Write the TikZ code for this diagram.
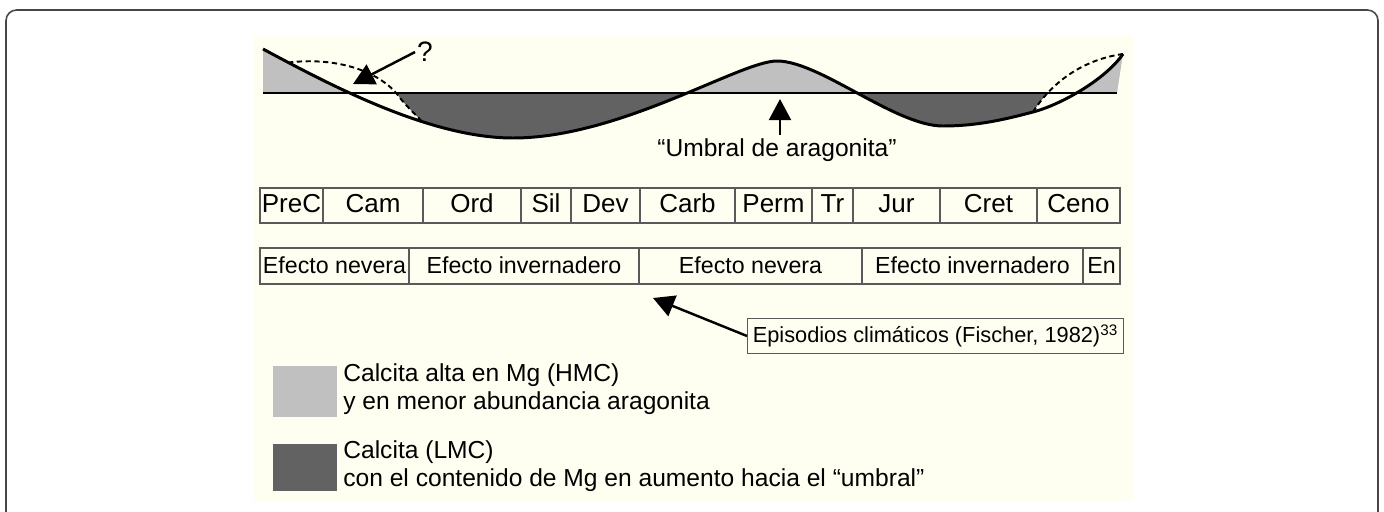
\documentclass[tikz,border=0pt]{standalone}
\usepackage{fontspec}
\setmainfont{Liberation Sans}
\usepackage{xcolor}
\usepackage{tikz}
\usetikzlibrary{arrows.meta,positioning}

\definecolor{cream}{RGB}{255,255,241}
\definecolor{hmc}{RGB}{192,192,192}
\definecolor{lmc}{RGB}{98,98,98}
\definecolor{framegray}{RGB}{70,70,70}
\definecolor{boxgray}{RGB}{90,90,90}

% curves (pixel units)
\newcommand\solidcurve{(263,49) .. controls (330,85) and (430,138) .. (513,138) .. controls (620,138) and (740,61) .. (777,61) .. controls (820,61) and (895,126) .. (943,126) .. controls (980,126) and (1010,118) .. (1033,112) .. controls (1060,105) and (1105,80) .. (1123,54)}
\newcommand\dashleft{(288,62.5) .. controls (345,56) and (385,76) .. (400,98) .. controls (410,110) and (416,115) .. (422,121.5)}
\newcommand\dashright{(1033,112) .. controls (1050,85) and (1080,60) .. (1123,54)}

\begin{document}
\begin{tikzpicture}[x=0.02cm, y=-0.02cm,
    period/.style={draw=boxgray, line width=0.6pt, minimum height=0.7cm, inner sep=0pt, text height=0.8em, text depth=0pt, font=\fontsize{14.8}{16}\selectfont},
    climate/.style={draw=boxgray, line width=0.6pt, minimum height=0.72cm, inner sep=0pt, text height=0.8em, text depth=0pt, font=\fontsize{13.2}{15}\selectfont},
    bigarrow/.style={-{Triangle[length=12pt,width=12.5pt]}, line width=1.4pt},
    legendtext/.style={align=left, anchor=west, inner sep=0pt, font=\fontsize{14}{15.9}\selectfont}]

    \useasboundingbox (0,0) rectangle (1384,511);

    % Frame and background
    \draw[framegray, line width=0.9pt, rounded corners=6pt] (6,10) rectangle (1378,560);
    \fill[cream] (253,35) rectangle (1133,502);

    % Light gray areas
    \begin{scope}
        \clip (263,0) -- (1123,0) -- (1123,54) -- (1117,93) -- (263,93) -- cycle;
        \fill[hmc] \solidcurve -- (1123,200) -- (263,200) -- cycle;
    \end{scope}

    % Dark gray areas
    \begin{scope}
        \clip (0,93) rectangle (1384,220);
        \clip \dashleft -- (422,220) -- (1033,220) -- \dashright -- (1123,30) -- (288,30) -- cycle;
        \fill[lmc] \solidcurve -- (1123,0) -- (263,0) -- cycle;
    \end{scope}

    % Curves
    \draw[line width=1.5pt] (263,93) -- (1117,93);
    \draw[line width=1.7pt] \solidcurve;
    \draw[line width=1.1pt, dash pattern=on 3pt off 2pt] \dashleft;
    \draw[line width=1.1pt, dash pattern=on 3pt off 2pt] \dashright;

    % Nodes
    \node (quest) [inner sep=1pt, font=\fontsize{16}{16}\selectfont] at (425,52) {?};
    \node (umbral) [inner sep=2pt, font=\fontsize{14}{16}\selectfont] at (777,150) {“Umbral de aragonita”};
    \coordinate (qtip) at (353,84);
    \coordinate (utip) at (780,99);

    \foreach \lab/\xa/\xb in {PreC/260/323, Cam/323/423, Ord/423/521, Sil/521/571, Dev/571/640, Carb/640/735, Perm/735/812, Tr/812/853, Jur/853/940, Cret/940/1037, Ceno/1037/1120}
        \node[period, minimum width={(\xb-\xa)*0.02cm}] (p\lab) at ({(\xa+\xb)/2},205.5) {\lab};

    \foreach \lab/\xa/\xb [count=\i] in {Efecto nevera/260/409, Efecto invernadero/409/639, Efecto nevera/639/862, Efecto invernadero/862/1083, En/1083/1120}
        \node[climate, minimum width={(\xb-\xa)*0.02cm}] (c\i) at ({(\xa+\xb)/2},266) {\lab};

    \node (episodes) [draw=boxgray, line width=0.6pt, inner xsep=3pt, minimum height=0.64cm, anchor=west, font=\fontsize{12.4}{14}\selectfont] at (747,336) {Episodios climáticos (Fischer, 1982)\textsuperscript{33}};
    \coordinate (etip) at (653,298);

    % Arrows
    \draw[bigarrow] (quest.west) -- (qtip);
    \draw[bigarrow] (umbral.north -| utip) -- (utip);
    \draw[bigarrow] (episodes.west) -- (etip);

    % Legend
    \fill[hmc] (273,366) rectangle (337,417);
    \node[legendtext] (hmclabel) at (343,389) {Calcita alta en Mg (HMC)\\y en menor abundancia aragonita};
    \fill[lmc] (273,444) rectangle (337,491);
    \node[legendtext] (lmclabel) at (343,466) {Calcita (LMC)\\con el contenido de Mg en aumento hacia el “umbral”};

\end{tikzpicture}
\end{document}
